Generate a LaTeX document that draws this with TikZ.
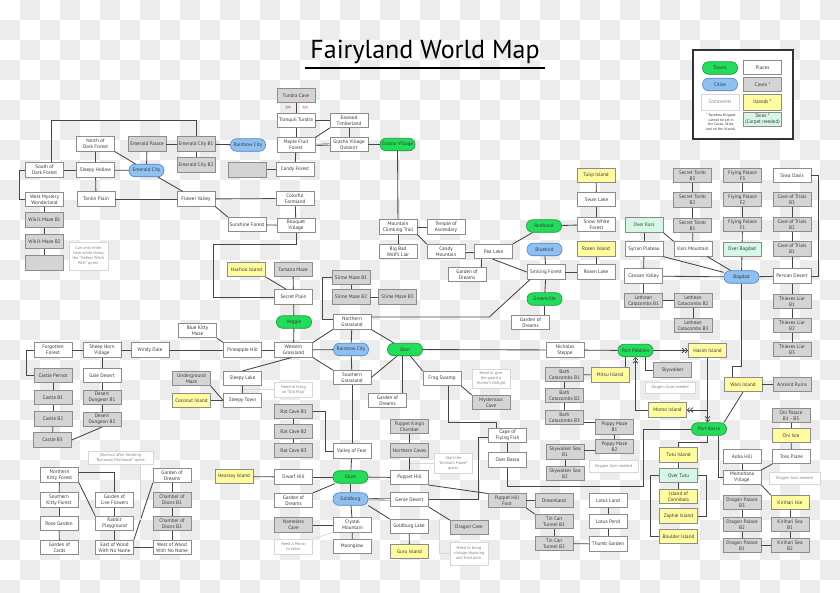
\documentclass[tikz,border=0pt]{standalone}
\usepackage{fontspec}
\setmainfont{PT Sans}
\usetikzlibrary{arrows.meta}
\definecolor{checker}{RGB}{236,236,236}
\definecolor{boxline}{RGB}{140,140,140}
\definecolor{txt}{RGB}{55,55,55}
\definecolor{cavefill}{RGB}{212,212,212}
\definecolor{islefill}{RGB}{255,252,160}
\definecolor{skyfill}{RGB}{214,247,230}
\definecolor{townfill}{RGB}{34,221,89}
\definecolor{towndraw}{RGB}{30,150,60}
\definecolor{cityfill}{RGB}{142,192,242}
\definecolor{citydraw}{RGB}{80,130,200}
\definecolor{notedraw}{RGB}{215,215,215}
\definecolor{notetext}{RGB}{130,130,130}
\definecolor{linkc}{RGB}{70,70,70}
\newcommand\boxfont{\fontsize{5.1}{6.1}\selectfont}
\newcommand\notefont{\fontsize{4.2}{5}\selectfont}
\newcommand\titlefont{\fontsize{26}{30}\selectfont}
\tikzset{
    box/.style = {draw=boxline, line width=0.6pt, minimum width=38pt, minimum height=14.5pt,
        inner sep=0.3pt, align=center, text=txt, font=\boxfont},
    place/.style = {box, fill=white},
    cave/.style = {box, fill=cavefill},
    island/.style = {box, fill=islefill},
    sky/.style = {box, fill=skyfill},
    town/.style = {box, draw=towndraw, fill=townfill, minimum width=35pt, minimum height=12.5pt, rounded corners=6pt},
    city/.style = {box, draw=citydraw, fill=cityfill, minimum width=35pt, minimum height=12.5pt, rounded corners=6pt},
    note/.style = {box, draw=notedraw, fill=white, text=notetext, font=\notefont},
    qq/.style = {text=red!80!black, font=\notefont},
    dbl/.style = {-{Straight Barb[length=2.2pt,width=4.5pt]Straight Barb[length=2.2pt,width=4.5pt]}},
    twin/.style = {double=white, double distance=0.9pt, line width=0.55pt},
    faint/.style = {draw=notedraw, line width=0.6pt}
}
\begin{document}
\begin{tikzpicture}[x=1pt, y=-1pt]
    \useasboundingbox (0,0) rectangle (840,592);
    \fill[white] (0,0) rectangle (840,592);
    \foreach \cx in {0,40,...,840}
        \foreach \cy in {0,40,...,580} {
            \fill[checker] (\cx+20,\cy) rectangle ++(20,20);
            \fill[checker] (\cx,\cy+20) rectangle ++(20,20);
        }

    % title and legend
    \node[font=\titlefont, text=black] (title) at (425,52) {Fairyland World Map};
    \draw[line width=2pt] (305,68) -- (545,68);
    \draw[line width=1.6pt, draw=black!80, fill=white] (693,50) rectangle (793,139);
    \node[town] (l-town) at (720,68) {Towns};
    \node[place] (l-place) at (762.5,67.5) {Places};
    \node[city] (l-city) at (720,84.5) {Cities};
    \node[cave] (l-cave) at (762.5,84.5) {Caves *};
    \node[note, font=\boxfont, minimum height=16pt] (l-note) at (720,102) {Comments};
    \node[island, minimum height=16pt] (l-isle) at (762.5,102) {Islands *};
    \node[sky] (l-sky) at (762.5,119.5) {Skies *\\(Carpet needed)};
    \node[align=center, text=txt, font=\fontsize{3.7}{4.5}\selectfont] (l-star) at (721,122)
        {* Rainbow Brigade\\cannot be set in\\the Caves, Skies,\\and on the Islands.};

    % north west
    \node[place] (sdf) at (44.5,170) {South of\\Dark Forest};
    \node[place] (ndf) at (95.5,144) {North of\\Dark Forest};
    \node[place] (shol) at (95.5,170) {Sleepy Hollow};
    \node[city] (emc) at (146.5,170.5) {Emerald City};
    \node[cave] (emp) at (147,144) {Emerald Palace};
    \node[cave] (emb1) at (196,144) {Emerald City B1};
    \node[cave] (emb2) at (196,165) {Emerald City B2};
    \node[city] (rbc1) at (248,145) {Rainbow City};
    \node[cave, minimum height=15pt] (blank1) at (247.5,169.5) {};
    \node[place] (wmw) at (44.5,199.5) {West Mystery\\Wonderland};
    \node[place] (tanlin) at (96,199) {Tanlin Plain};
    \node[place] (flv) at (196,199) {Flower Valley};
    \node[cave] (wiki1) at (44.5,220) {Wiki's Maze B1};
    \node[cave] (wiki2) at (44.5,241.5) {Wiki's Maze B2};
    \node[cave, minimum height=15pt] (blank2) at (44.5,262.5) {};
    \node[note, minimum width=39pt, minimum height=28pt] (n-wiki) at (88.5,256)
        {Can only enter\\here while doing\\the “Defeat Witch\\Wiki” quest.};
    \node[place] (sunf) at (247,224.5) {Sunshine Forest};
    \node[island] (hachoo) at (246.5,269.5) {Hachoo Island};

    % north
    \node[cave] (tundc) at (296,95.5) {Tundra Cave};
    \node[qq] (q1) at (288,108) {???};
    \node[qq] (q2) at (305,108) {???};
    \node[place] (tundra) at (296,120.5) {Tranquil Tundra};
    \node[place] (eswood) at (349,120.5) {Eswood\\Timberland};
    \node[place] (maple) at (296,145) {Maple Fruit\\Forest};
    \node[place] (outsk) at (349,144.5) {Grasha Village\\Outskirt};
    \node[town] (grasha) at (397.5,144.5) {Grasha Village};
    \node[place] (candyf) at (295,169.5) {Candy Forest};
    \node[place] (colf) at (295,198.5) {Colorful\\Farmland};
    \node[place] (bouq) at (296,225.5) {Bouquet\\Village};
    \node[place] (mct) at (398,227) {Mountain\\Climbing Trail};
    \node[place] (temple) at (446,227) {Temple of\\Ascendary};
    \node[place] (bbw) at (398,251.5) {Big Bad\\Wolf's Liar};
    \node[place] (candym) at (446,251.5) {Candy\\Mountain};
    \node[place] (pea) at (493.5,251.5) {Pea Lake};
    \node[town] (redhood) at (544,226) {Redhood};
    \node[city] (bluebird) at (544.5,249.5) {Bluebird};
    \node[place] (smile) at (546,272) {Smiling Forest};
    \node[town] (greenv) at (544.5,299) {Greenville};
    \node[place] (god1) at (530.5,322.5) {Garden of\\Dreams};
    \node[place] (god2) at (467,274.5) {Garden of\\Dreams};

    % centre
    \node[cave] (tamana) at (293,269.5) {Tamana Maze};
    \node[place] (secp) at (293.5,297) {Secret Plain};
    \node[town] (veggie) at (294,322) {Veggie};
    \node[cave] (slime1) at (351,277.5) {Slime Maze B1};
    \node[cave] (slime2) at (351,297) {Slime Maze B2};
    \node[cave] (slime3) at (397.5,297) {Slime Maze B3};
    \node[place] (ngr) at (352,322) {Northern\\Grassland};
    \node[place] (wgr) at (293.5,350) {Western\\Grassland};
    \node[city] (rbc2) at (351,349.5) {Rainbow City};
    \node[town] (gion) at (405,349.5) {Gion};
    \node[place] (sgr) at (352,377.5) {Southern\\Grassland};
    \node[place] (frog) at (442,378.5) {Frog Swamp};
    \node[place] (god3) at (387.5,400.5) {Garden of\\Dreams};
    \node[note, minimum height=19pt] (n-guard) at (491,378.5) {Need to give\\the guard a\\Hunter's Delight};
    \node[cave] (myst) at (491,402.5) {Mysterious\\Cave};
    \node[place] (nich) at (565,350) {Nicholas\\Steppe};

    % west
    \node[place] (forg) at (53,350) {Forgotten\\Forest};
    \node[place] (sheep) at (102,350) {Sheep Horn\\Village};
    \node[place] (windy) at (150,350) {Windy Dale};
    \node[place] (bkm) at (197.5,330.5) {Blue Kitty\\Maze};
    \node[place] (pine) at (242.5,350) {Pineapple Hill};
    \node[cave] (pernot) at (53,375.5) {Castle Pernot};
    \node[place] (gale) at (102,375.5) {Gale Desert};
    \node[cave] (cas1) at (53,397.5) {Castle B1};
    \node[cave] (dd1) at (102,397.5) {Desert\\Dungeon B1};
    \node[cave] (cas2) at (53,419) {Castle B2};
    \node[cave] (dd2) at (102,419.5) {Desert\\Dungeon B2};
    \node[cave] (cas3) at (52.5,440) {Castle B3};
    \node[cave] (ugm) at (191.5,378.5) {Underground\\Maze};
    \node[place] (slake) at (242.5,378.5) {Sleepy Lake};
    \node[island] (coco) at (191.5,400.5) {Coconut Island};
    \node[place] (stown) at (242.5,400.5) {Sleepy Town};
    \node[note, minimum height=15pt] (n-map) at (293.5,389.5) {Need to bring\\an “Old Map”};

    % south west
    \node[note, minimum width=65pt, minimum height=13pt] (n-short) at (120.5,457.5)
        {Shortcut after finishing\\“Runaway Dormouse” quest.};
    \node[place] (nkf) at (59.5,475) {Northern\\Kitty Forest};
    \node[place] (skf) at (59,500) {Southern\\Kitty Forest};
    \node[place] (rose) at (59,523.5) {Rose Garden};
    \node[place] (cards) at (59.5,547.5) {Garden of\\Cards};
    \node[place] (glf) at (114.5,500) {Garden of\\Live Flowers};
    \node[place] (rabbit) at (114.5,523.5) {Rabbit\\Playground};
    \node[place] (eastw) at (114.5,547.5) {East of Wood\\With No Name};
    \node[place] (god4) at (172,475.5) {Garden of\\Dreams};
    \node[cave] (cdb1) at (172,500) {Chamber of\\Doors B1};
    \node[cave] (cdb2) at (172,523.5) {Chamber of\\Doors B2};
    \node[place] (westw) at (172,547.5) {West of Wood\\With No Name};
    \coordinate (cut) at (140,520);

    % south
    \node[cave] (rat1) at (293.5,411.5) {Rat Cave B1};
    \node[cave] (rat2) at (293.5,431.5) {Rat Cave B2};
    \node[cave] (rat3) at (293.5,450.5) {Rat Cave B3};
    \node[place] (fear) at (352,451) {Valley of Fear};
    \node[town] (illum) at (350.5,477) {Illum};
    \node[place] (dwarf) at (293.5,477) {Dwarf Hill};
    \node[island] (hearsay) at (234,476.5) {Hearsay Island};
    \node[place] (god5) at (293.5,500.5) {Garden of\\Dreams};
    \node[city] (goldb) at (350.5,499) {Goldburg};
    \node[place] (phill) at (409.5,477.5) {Puppet Hill};
    \node[cave] (ncaves) at (409.5,450.5) {Northern Caves};
    \node[cave] (pking) at (409.5,426.5) {Puppet King's\\Chamber};
    \node[note, minimum height=20pt] (n-animal) at (453.5,463) {Start the\\“Animal's Home”\\quest.};
    \node[place] (genie) at (409.5,499.5) {Genie Desert};
    \node[cave] (dragc) at (469,527.5) {Dragon Cave};
    \node[note, minimum height=23pt] (n-pork) at (469,553.5) {Need to bring\\vintage shaoxing\\and fried pork.};
    \node[place] (gblake) at (409,526.5) {Goldburg Lake};
    \node[island] (guru) at (409.5,551.5) {Guru Island};
    \node[place] (crystal) at (352.5,525) {Crystal\\Mountain};
    \node[cave] (nameless) at (293.5,525) {Nameless\\Cave};
    \node[place] (moon) at (352,546.5) {Moonglow};
    \node[note, minimum height=15pt] (n-mirror) at (293.5,546.5) {Need a Mirror\\to enter.};

    % south east
    \node[cave] (bath1) at (564.5,374.5) {Bath\\Catacombs B1};
    \node[cave] (bath2) at (564.5,395.5) {Bath\\Catacombs B2};
    \node[cave] (bath3) at (564.5,417.5) {Bath\\Catacombs B3};
    \node[cave] (poppy1) at (614.5,427) {Poppy Maze\\B1};
    \node[cave] (poppy2) at (614.5,446.5) {Poppy Maze\\B2};
    \node[cave] (sws1) at (565,452) {Skywalker Sea\\B1};
    \node[cave] (sws2) at (565,473.5) {Skywalker Sea\\B2};
    \node[note, minimum width=49pt, minimum height=12pt] (n-gum1) at (613.5,466) {Oxygen Gum needed};
    \node[place] (cape) at (507.5,435.5) {Cape of\\Flying Fish};
    \node[place] (bassa) at (507.5,460) {Over Bassa};
    \node[cave] (phfoot) at (507,500.5) {Puppet Hill\\Foot};
    \node[cave] (dream) at (554,500.5) {Dreamland};
    \node[cave] (tin1) at (554,521.5) {Tin Can\\Tunnel B1};
    \node[cave] (tin2) at (554,543.5) {Tin Can\\Tunnel B2};
    \node[place] (lotusl) at (608,500.5) {Lotus Land};
    \node[place] (lotusp) at (608,521.5) {Lotus Pond};
    \node[place] (thumb) at (608,544) {Thumb Garden};

    % east
    \node[island] (tulip) at (596,175.5) {Tulip Island};
    \node[place] (swan) at (596.5,199.5) {Swan Lake};
    \node[place] (snow) at (596.5,224.5) {Snow White\\Forest};
    \node[island] (rosen) at (596,249) {Rosen Island};
    \node[place] (rosenl) at (596,272) {Rosen Lake};
    \node[cave] (st3) at (692.5,175.5) {Secret Tomb\\B3};
    \node[cave] (st2) at (692.5,200) {Secret Tomb\\B2};
    \node[cave] (st1) at (692.5,225.5) {Secret Tomb\\B1};
    \node[cave] (fp3) at (742.5,175.5) {Flying Palace\\F3};
    \node[cave] (fp2) at (742.5,199.5) {Flying Palace\\F2};
    \node[cave] (fp1) at (742.5,224.5) {Flying Palace\\F1};
    \node[place] (siwa) at (792,175.5) {Siwa Oasis};
    \node[cave] (ct3) at (792,199.5) {Cave of Trials\\B3};
    \node[cave] (ct2) at (792,224.5) {Cave of Trials\\B2};
    \node[cave] (ct1) at (792,249) {Cave of Trials\\B1};
    \node[sky] (okars) at (644,225) {Over Kars};
    \node[place] (syrian) at (644,249) {Syrian Plateau};
    \node[place] (karsm) at (693,249) {Kars Mountain};
    \node[sky] (obag) at (742,249.5) {Over Bagdad};
    \node[place] (canaan) at (643.5,276) {Canaan Valley};
    \node[city] (bagdad) at (741.5,277) {Bagdad};
    \node[place] (persian) at (792,276) {Persian Desert};
    \node[cave] (leth1) at (643.5,300.5) {Lethean\\Catacombs B1};
    \node[cave] (leth2) at (693,300.5) {Lethean\\Catacombs B2};
    \node[cave] (leth3) at (693,325.5) {Lethean\\Catacombs B3};
    \node[cave] (thief1) at (792,301.5) {Thieves Liar\\B1};
    \node[cave] (thief2) at (792,325.5) {Thieves Liar\\B2};
    \node[cave] (thief3) at (792,349.5) {Thieves Liar\\B3};
    \node[town] (pebbles) at (635.5,350.5) {Port Pebbles};
    \node[island] (hasim) at (707.5,350.5) {Hasim Island};
    \node[cave] (skyw) at (672.5,370) {Skywalker};
    \node[note, minimum width=50pt, minimum height=11pt] (n-gum2) at (670,387.5) {Oxygen Gum needed};
    \node[island] (mitsu) at (610,375) {Mitsu Island};
    \node[island] (momo) at (667.5,410) {Momo Island};
    \node[island] (wani) at (743,384.5) {Wani Island};
    \node[cave] (ruins) at (792,384.5) {Ancient Ruins};
    \node[town] (basra) at (709,429) {Port Basra};
    \node[cave] (onip) at (791,415.5) {Oni Palace\\B1 - B3};
    \node[island] (oniisle) at (791,435.5) {Oni Isle};
    \node[place] (toss) at (791.5,456.5) {Toss Plane};
    \node[place] (aoba) at (742,456.5) {Aoba Hill};
    \node[place] (momoh) at (742,477.5) {Momohana\\Village};
    \node[note, minimum width=51pt, minimum height=12pt] (n-gum3) at (794.5,478) {Oxygen Gum needed};
    \node[island] (kiri) at (790,502.5) {Kirihari Isle};
    \node[cave] (ks1) at (790,524.5) {Kirihari Sea\\B1};
    \node[cave] (ks2) at (790,545.5) {Kirihari Sea\\B2};
    \node[cave] (dp3) at (742,502.5) {Dragon Palace\\B3};
    \node[cave] (dp2) at (742,524.5) {Dragon Palace\\B2};
    \node[cave] (dp1) at (742,545.5) {Dragon Palace\\B1};
    \node[island] (tutu) at (678.5,455) {Tutu Island};
    \node[sky] (otutu) at (678.5,475.5) {Over Tutu};
    \node[island] (cannib) at (678.5,496.5) {Island of\\Cannibals};
    \node[island] (zaphie) at (678.5,516) {Zaphie Island};
    \node[island] (boulder) at (678.5,536.5) {Boulder Island};

    \begin{scope}[every path/.style = {draw=linkc, line width=0.85pt}]
    % north west
    \draw ([xshift=7pt]sdf.north) -- ++(0,-42) -| (emb1.north);
    \draw (sdf) -- (shol);
    \draw (sdf.west) -- ++(-6,0) |- (wmw.west);
    \draw (ndf) -- (shol);
    \draw (ndf.south east) -- (emc);
    \draw (shol) -- (emc);
    \draw (shol) -- (tanlin);
    \draw (emp) -- (emc);
    \draw (emp) -- (emb1);
    \draw (emb1) -- (rbc1);
    \draw (emb1) -- (emb2);
    \draw (emc) -- (flv);
    \draw (tanlin) -- (flv);
    \draw (flv) -- (colf);
    \draw (flv.south east) -- (sunf.north west);
    \draw (sunf) -- (bouq);
    \draw (wmw) -- (wiki1);
    \draw (wiki1) -- (wiki2);
    \draw (wiki2) -- (blank2);
    \draw (candyf) -- (blank1);
    % north
    \draw (tundc) -- (tundra);
    \draw (tundra) -- (maple);
    \draw (tundra) -- (eswood);
    \draw (maple.north east) -- (eswood.south west);
    \draw[twin] (maple) -- (outsk);
    \draw (eswood) -- (outsk);
    \draw (outsk) -- (grasha);
    \draw (maple) -- (candyf);
    \draw (colf) -- (bouq);
    \draw (grasha) -- (mct);
    \draw (bouq.south) -- ++(0,11) -| ([xshift=-61pt]secp.west) -- (secp.west);
    \draw (mct) -- (temple);
    \draw (mct) -- (bbw);
    \draw (mct.south east) -- (candym.north west);
    \draw[twin] (candym) -- (pea);
    \draw (pea.north east) -- (redhood);
    \draw ([xshift=-12pt]pea.south) -- ([xshift=-12pt]pea.south |- god2.north);
    \draw ([xshift=-1pt]pea.south) -- (smile.west);
    \draw (bluebird) -- (smile);
    \draw (smile) -- (greenv);
    \draw (greenv) -- (greenv |- god1.north);
    \draw (smile) -- (rosenl);
    \draw (ngr.east) ++(0,-5) -- ++(118,0) -- ([xshift=-16pt]smile.south);
    % centre
    \draw (tamana) -- (secp);
    \draw (hachoo.south east) -- ([xshift=-7pt]secp.north);
    \draw (secp) -- (veggie);
    \draw (veggie) -- (wgr);
    \draw (slime1) -- (slime2);
    \draw (slime2) -- (slime3);
    \draw (slime1.west) -- ++(-9,0) |- ([yshift=3pt]ngr.west);
    \draw (ngr.south west) -- (wgr.north east);
    \draw (ngr) -- (rbc2);
    \draw (ngr.south east) -- (gion);
    \draw (wgr) -- (rbc2);
    \draw (wgr.south east) -- (sgr.north west);
    \draw (rbc2) -- (sgr);
    \draw (sgr.east) -- (gion);
    \draw (gion) -- (nich);
    \draw ([xshift=-3pt]gion.south) -- ([xshift=-3pt]gion.south |- god3.north);
    \draw (gion) -- (frog.north west);
    \draw (frog.south east) -- (myst.north west);
    \draw (nich) -- (pebbles);
    \draw (wgr) -- (pine);
    \draw (slake.north) -- ([xshift=-2pt]wgr.south);
    % west
    \draw (forg) -- (sheep);
    \draw (sheep) -- (windy);
    \draw (windy) -- (pine);
    \draw (bkm.south east) -- (pine.north west);
    \draw (forg.west) -- ++(-7,0) |- (pernot.west);
    \draw (pernot) -- (cas1);
    \draw (cas1) -- (cas2);
    \draw (cas2) -- (cas3);
    \draw (sheep) -- (gale);
    \draw (gale) -- (dd1);
    \draw (dd1) -- (dd2);
    \draw (cas3.east) -- (dd2.south);
    \draw (slake) -- (stown);
    \draw (ugm.south east) -- (stown.west);
    \draw (coco) -- (stown);
    \draw[faint] (n-map.west) -- (n-map.west -| slake.south);
    % south west
    \draw (nkf) -- (skf);
    \draw (skf) -- (rose);
    \draw (rose) -- (cards);
    \draw ([yshift=3pt]nkf.east) -| (glf.north);
    \draw (nkf.south east) -- (rabbit.north west);
    \draw (glf) -- (rabbit);
    \draw (rabbit) -- (eastw);
    \draw (eastw) -- (westw);
    \draw (eastw.north east) -- (god4.south west);
    \draw (god4) -- (cdb1);
    \draw (cdb1) -- (cdb2);
    \draw (cdb2) -- (westw);
    \draw[faint] (n-short.south -| cut) -- (cut);
    % south
    \draw (rat1) -- (rat2);
    \draw (rat2) -- (rat3);
    \draw (rat1.east) -- ++(13,0) |- (fear.west);
    \draw (sgr) -- (fear);
    \draw (fear) -- (illum);
    \draw (hearsay) -- (dwarf);
    \draw (dwarf) -- (illum);
    \draw (god5.north east) -- (illum);
    \draw (illum) -- (goldb);
    \draw (illum) -- (phill);
    \draw (pking) -- (ncaves);
    \draw (ncaves) -- (phill);
    \draw[faint] (n-animal.west) -- (n-animal.west -| ncaves.south);
    \draw[twin] (goldb) -- (genie);
    \draw (genie.south east) -- (dragc.north west);
    \draw[faint] (n-pork.west) -- ++(-10,0) -- ++(0,-35);
    \draw (goldb.south east) -- (gblake.north west);
    \draw (gblake) -- (guru);
    \draw (goldb) -- (crystal);
    \draw (nameless) -- (crystal);
    \draw (crystal) -- (moon);
    \draw[faint] (n-mirror.north east) -- (crystal.south west);
    \draw (phill.south east) -- ([yshift=7pt]phfoot.west);
    \draw (genie.east) -- ++(50,0) |- ([yshift=-2pt]cape.west);
    \draw ([xshift=6pt]frog.south) -- ++(0,36) -| ([xshift=-11pt]cape.north);
    \draw (cape) -- (bassa);
    \draw (bassa.south) -- ++(0,19) -- ++(136,0) |- (basra.west);
    % south east
    \draw (phfoot) -- (dream);
    \draw (phfoot.south east) -- (tin1.north west);
    \draw (tin1) -- (tin2);
    \draw (tin2) -- (thumb);
    \draw (lotusl) -- (lotusp);
    \draw (lotusp) -- (thumb);
    \draw (bath1) -- (bath2);
    \draw (bath2) -- (bath3);
    \draw ([yshift=-4.5pt]bath3.east) -- ([yshift=-4.5pt]bath3.east -| poppy1.west);
    \draw (poppy1) -- (poppy2);
    \draw ([yshift=2pt]sws1.east) -- ([yshift=2pt]sws1.east -| poppy2.west);
    \draw (sws1) -- (sws2);
    % east
    \draw (mitsu) -- (bath1);
    \draw ([xshift=15pt]mitsu.north) -- ([xshift=15pt]mitsu.north |- pebbles.south);
    \draw[dbl] (pebbles) -- (hasim);
    \draw ([xshift=10pt]pebbles.south) |- (skyw.west);
    \draw[dbl] (momo.west) -| (pebbles.south);
    \draw[dbl] (hasim.south) |- (momo.east);
    \draw[dbl] (hasim.south) -- (hasim.south |- basra.north);
    \draw (bagdad.south) -- ++(0,83) -| ([xshift=-11pt]wani.north);
    \draw (wani) -- (ruins);
    \draw (wani.south) -- ([xshift=15pt]basra.north);
    \draw ([xshift=9pt]basra.south) |- (momoh.west);
    \draw ([xshift=-2pt]basra.south) -- ++(0,6.7) -| (tutu.north);
    \draw (tutu) -- (otutu);
    \draw (otutu) -- (cannib);
    \draw (otutu.west) -- ++(-9,0) |- (boulder.west);
    \draw (otutu.east) -- ++(9,0) |- (zaphie.east);
    \draw (onip) -- (oniisle);
    \draw (oniisle) -- (toss);
    \draw (aoba) -- (momoh);
    \draw (toss.south west) -- (momoh.north east);
    \draw (momoh.south east) -- (kiri.north west);
    \draw (kiri) -- (ks1);
    \draw (ks1) -- (ks2);
    \draw (dp3) -- (dp2);
    \draw (dp2) -- (dp1);
    \draw (dp1) -- (ks2);
    \draw (tulip) -- (swan);
    \draw (swan) -- (snow);
    \draw (snow) -- (redhood);
    \draw (rosen) -- (rosenl);
    \draw (st3) -- (st2);
    \draw (st2) -- (st1);
    \draw (st1) -- (karsm);
    \draw (fp3) -- (fp2);
    \draw (fp2) -- (fp1);
    \draw (fp1) -- (obag);
    \draw (obag) -- (bagdad);
    \draw (siwa.east) -- ++(7,0) |- (persian.east);
    \draw (ct3) -- (ct2);
    \draw (ct2) -- (ct1);
    \draw (ct1) -- (persian);
    \draw (persian) -- (thief1);
    \draw (thief1) -- (thief2);
    \draw (thief2) -- (thief3);
    \draw (okars) -- (syrian);
    \draw (okars.south east) -- (karsm.north west);
    \draw (syrian.south east) -- (bagdad);
    \draw ([xshift=-5pt]karsm.south east) -- (bagdad);
    \draw (syrian) -- (canaan);
    \draw (canaan) -- (bagdad);
    \draw (bagdad) -- (persian);
    \draw (canaan) -- (leth1);
    \draw (leth1) -- (leth2);
    \draw (leth2) -- (leth3);
    \end{scope}
\end{tikzpicture}
\end{document}
